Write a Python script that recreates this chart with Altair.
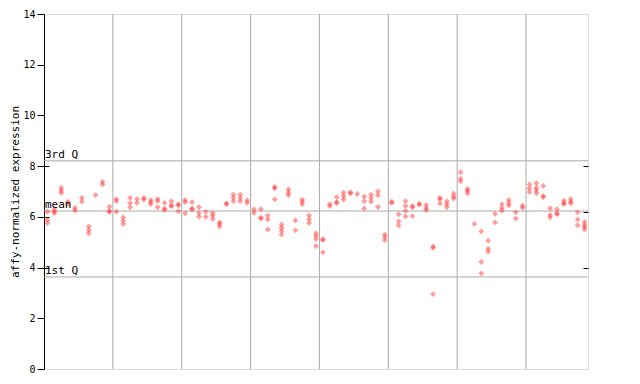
import altair as alt
import pandas as pd

# expression values per sample (several replicate values per sample)
sample_values = [
    [6.2, 5.88, 5.75], [6.3, 6.2, 6.15], [7.15, 7.05, 6.95], [6.6, 6.5], [6.35, 6.25],
    [6.75, 6.6], [5.62, 5.48, 5.35], [6.86], [7.38, 7.28], [6.4, 6.22, 6.2],
    [6.7, 6.62, 6.2], [5.98, 5.85, 5.72], [6.75, 6.55, 6.38], [6.7, 6.55], [6.75, 6.68],
    [6.66, 6.58, 6.5], [6.7, 6.62, 6.38], [6.55, 6.32, 6.28], [6.62, 6.45, 6.42], [6.5, 6.45, 6.22],
    [6.66, 6.58, 6.14], [6.58, 6.32, 6.3], [6.38, 6.14, 6.0], [6.2, 6.0], [6.15, 6.05, 5.92],
    [5.78, 5.72, 5.62], [6.53, 6.5], [6.88, 6.75, 6.62], [6.88, 6.75, 6.62], [6.65, 6.55],
    [6.3, 6.16], [6.3, 5.97, 5.93], [6.05, 5.9, 5.5], [7.18, 7.12, 6.69], [5.7, 5.57, 5.45, 5.3],
    [7.08, 6.95, 6.85], [5.86, 5.47], [6.68, 6.6, 6.5], [6.05, 5.9, 5.75], [5.35, 5.25, 5.12, 4.85],
    [5.12, 5.08, 4.6], [6.5, 6.42], [6.78, 6.58, 6.55], [6.95, 6.82, 6.68], [6.97, 6.92],
    [6.9], [6.8, 6.62, 6.33], [6.88, 6.74, 6.6], [7.0, 6.85, 6.39], [5.3, 5.2, 5.08],
    [6.6, 6.55], [6.1, 5.82, 5.66], [6.62, 6.43, 6.23, 6.02], [6.42, 6.38, 6.03], [6.52, 6.48],
    [6.47, 6.35, 6.27], [4.83, 4.78, 2.95], [6.75, 6.7, 6.53], [6.62, 6.5, 6.38], [6.92, 6.8, 6.72],
    [7.76, 7.5, 7.4], [7.1, 7.03, 6.93], [5.72], [5.43, 4.22, 3.77], [5.06, 4.75, 4.63],
    [6.12, 5.78], [6.5, 6.35, 6.24], [6.66, 6.55, 6.45], [6.18, 5.94], [6.44, 6.36],
    [7.28, 7.12, 6.98], [7.33, 7.15, 7.05, 6.93], [7.22, 6.82, 6.78], [6.34, 6.08, 5.98], [6.3, 6.14, 6.1],
    [6.64, 6.55, 6.5], [6.7, 6.6, 6.53], [6.18, 5.9, 5.67], [5.8, 5.68, 5.6, 5.5],
]

group_boundaries = [10, 20, 30, 40, 50, 60, 70]
stat_names = ["3rd Q", "mean", "1st Q"]
stat_values = [8.21, 6.23, 3.63]
y_ticks = [0, 2, 4, 6, 8, 10, 12, 14]
left_inner_ticks = [4, 6, 8]
right_inner_ticks = [4, 6.2, 8]

n_samples = len(sample_values)
rows = []
for i, vals in enumerate(sample_values):
    for v in vals:
        rows.append({"pos": i + 0.5, "value": v})
points_df = pd.DataFrame(rows)
bounds_df = pd.DataFrame({"b": group_boundaries})
stats_df = pd.DataFrame({"name": stat_names, "value": stat_values})
linner_df = pd.DataFrame({"value": left_inner_ticks})
rinner_df = pd.DataFrame({"value": right_inner_ticks})

FONT = "DejaVu Sans Mono"
xscale = alt.Scale(domain=[0, n_samples], nice=False, zero=False)
yscale = alt.Scale(domain=[0, 14], nice=False)

points = alt.Chart(points_df).mark_point(
    shape="diamond", filled=True, size=34, color="#ff3a3a", opacity=0.5
).encode(
    x=alt.X("pos:Q", scale=xscale, axis=None),
    y=alt.Y("value:Q", scale=yscale, axis=alt.Axis(
        values=y_ticks, title="affy-normalized expression", grid=False,
        domainColor="black", tickColor="black", tickSize=7, labelPadding=2,
        labelFont=FONT, labelFontSize=10, labelColor="black",
        titleFont=FONT, titleFontSize=11, titleFontWeight="normal", titleColor="black",
        titleX=-29, titleY=177.5, titleAngle=270, titleAlign="center", titleBaseline="middle",
    )),
)

vrules = alt.Chart(bounds_df).mark_rule(color="#aaaaaa", strokeWidth=1).encode(
    x=alt.X("b:Q", scale=xscale, axis=None)
)

hrules = alt.Chart(stats_df).mark_rule(color="#aaaaaa", strokeWidth=1).encode(
    y=alt.Y("value:Q", scale=yscale, axis=None)
)

labels = alt.Chart(stats_df).mark_text(
    align="left", baseline="bottom", font=FONT, fontSize=11, color="black", dx=1, dy=-1
).encode(
    x=alt.value(0),
    y=alt.Y("value:Q", scale=yscale, axis=None),
    text="name:N",
)

left_inner = alt.Chart(linner_df).mark_rule(opacity=0).encode(
    y=alt.Y("value:Q", scale=yscale, axis=alt.Axis(
        orient="left", offset=-5, values=left_inner_ticks, labels=False, domain=False,
        tickColor="black", tickSize=5, title=None, grid=False)),
)

right_inner = alt.Chart(rinner_df).mark_rule(opacity=0).encode(
    y=alt.Y("value:Q", scale=yscale, axis=alt.Axis(
        orient="right", offset=-5, values=right_inner_ticks, labels=False, domain=False,
        tickColor="black", tickSize=5, title=None, grid=False)),
)

chart = alt.layer(vrules, hrules, points, labels, left_inner, right_inner).resolve_axis(
    y="independent"
).properties(
    width=544, height=355,
    autosize=alt.AutoSizeParams(type="none"),
    padding={"left": 36, "top": 6, "right": 44, "bottom": 7},
).configure_view(stroke="black", strokeWidth=1).configure(background="white")

chart.save("out.html", embed_options={"renderer": "svg", "actions": False})
